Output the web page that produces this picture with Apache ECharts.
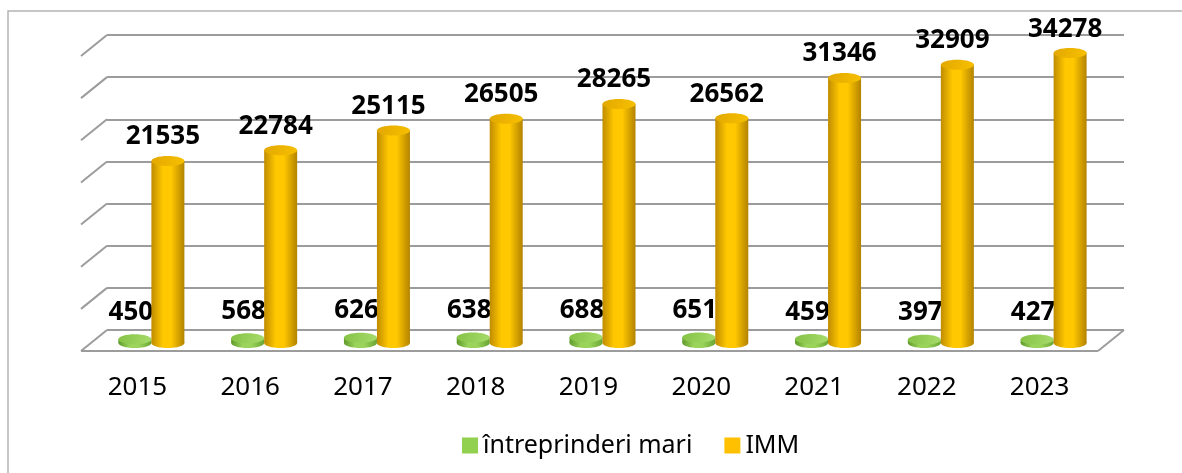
<!DOCTYPE html>
<html>
<head>
<meta charset="utf-8">
<script src="https://cdn.jsdelivr.net/npm/echarts@6/dist/echarts.min.js"></script>
<style>
  html, body { margin: 0; padding: 0; background: #fff; }
  #main { width: 1182px; height: 473px; }
</style>
</head>
<body>
<div id="main"></div>
<script>
// date din grafic
var ani = ['2015', '2016', '2017', '2018', '2019', '2020', '2021', '2022', '2023'];
var mari = [450, 568, 626, 638, 688, 651, 459, 397, 427];
var imm = [21535, 22784, 25115, 26505, 28265, 26562, 31346, 32909, 34278];
var ticks = [0, 5000, 10000, 15000, 20000, 25000, 30000, 35000];

var FONT = '"Noto Sans", "Open Sans", sans-serif';
var DX = -26, DY = 21; // adancimea 3D

var chart = echarts.init(document.getElementById('main'));

// cilindru desenat prin scalele axei
function cylinder(dx, cols, lblOff) {
  return function (params, api) {
    var i = api.value(0), v = api.value(1);
    var top = api.coord([i, v]);
    var base = api.coord([i, 0]);
    var w = 33, eh = 10;
    var x = top[0] + dx;
    var body = new echarts.graphic.LinearGradient(0, 0, 1, 0, [
      { offset: 0, color: cols[0] },
      { offset: 0.35, color: cols[1] },
      { offset: 0.6, color: cols[1] },
      { offset: 1, color: cols[2] }
    ]);
    return {
      type: 'group',
      children: [
        { type: 'ellipse', shape: { cx: x, cy: base[1], rx: w / 2, ry: eh / 2 }, style: { fill: body } },
        { type: 'rect', shape: { x: x - w / 2, y: top[1], width: w, height: base[1] - top[1] }, style: { fill: body } },
        { type: 'ellipse', shape: { cx: x, cy: top[1], rx: w / 2, ry: eh / 2 },
          style: { fill: new echarts.graphic.LinearGradient(0, 0, 1, 1, [
            { offset: 0, color: cols[3] }, { offset: 1, color: cols[4] }]) } },
        { type: 'text', x: x + lblOff[0], y: top[1] + lblOff[1],
          style: { text: String(v), font: 'bold 26px ' + FONT, fill: '#000',
            align: 'center', verticalAlign: 'bottom' } }
      ]
    };
  };
}

chart.setOption({
  animation: false,
  graphic: [{
    type: 'rect', shape: { x: 8, y: 11, width: 1200, height: 500 },
    style: { fill: 'none', stroke: '#b4b4b4', lineWidth: 1.5 }, silent: true
  }],
  legend: {
    left: 457, top: 428,
    itemWidth: 16, itemHeight: 16, itemGap: 32,
    icon: 'rect',
    textStyle: { fontFamily: FONT, fontSize: 25, color: '#000' },
    data: [
      { name: 'întreprinderi mari', itemStyle: { color: '#92D050' } },
      { name: 'IMM', itemStyle: { color: '#FFC000' } }
    ]
  },
  grid: [
    { left: 107, right: 58, top: 35, bottom: 143 },   // perete spate
    { left: 94.5, right: 72.5, top: 47, bottom: 130 },   // cilindri
    { left: 81, right: 86, top: 35, bottom: 122 }     // etichete ani
  ],
  xAxis: [
    { gridIndex: 0, type: 'value', min: 0, max: 1, show: false },
    { gridIndex: 1, type: 'category', data: ani, show: false },
    { gridIndex: 2, type: 'category', data: ani,
      axisLine: { show: false }, axisTick: { show: false },
      axisLabel: { margin: 24, fontFamily: FONT, fontSize: 26, color: '#000' } }
  ],
  yAxis: [
    { gridIndex: 0, type: 'value', min: 0, max: 35000, interval: 5000,
      axisLine: { show: false }, axisTick: { show: false }, axisLabel: { show: false },
      splitLine: { lineStyle: { color: '#9c9c9c', width: 2 } } },
    { gridIndex: 1, type: 'value', min: 0, max: 35000, show: false, splitLine: { show: false } },
    { gridIndex: 2, type: 'value', show: false, splitLine: { show: false } }
  ],
  series: [
    {
      // linii oblice stanga + podea
      type: 'custom', xAxisIndex: 0, yAxisIndex: 0, silent: true,
      data: ticks.map(function (t) { return [0, t]; }),
      renderItem: function (params, api) {
        var v = api.value(1);
        var p = api.coord([0, v]);
        var ls = { stroke: '#9c9c9c', lineWidth: 2 };
        var ch = [{ type: 'line', shape: { x1: p[0], y1: p[1], x2: p[0] + DX, y2: p[1] + DY }, style: ls }];
        if (v === 0) {
          var q = api.coord([1, 0]);
          ch.push({ type: 'line', shape: { x1: q[0], y1: q[1], x2: q[0] + DX, y2: q[1] + DY }, style: ls });
          ch.push({ type: 'line', shape: { x1: p[0] + DX, y1: p[1] + DY, x2: q[0] + DX, y2: q[1] + DY }, style: ls });
        }
        return { type: 'group', children: ch };
      }
    },
    {
      name: 'întreprinderi mari', type: 'custom', xAxisIndex: 1, yAxisIndex: 1,
      itemStyle: { color: '#92D050' },
      data: mari.map(function (v, i) { return [i, v]; }),
      renderItem: cylinder(-16, ['#5f9a2c', '#9ad45a', '#6aa634', '#84c244', '#a8dc6c'], [-4, -14])
    },
    {
      name: 'IMM', type: 'custom', xAxisIndex: 1, yAxisIndex: 1,
      itemStyle: { color: '#FFC000' },
      data: imm.map(function (v, i) { return [i, v]; }),
      renderItem: cylinder(17, ['#c08c00', '#ffc800', '#b38300', '#e2a800', '#f7c000'], [-5, -11])
    }
  ]
});
</script>
</body>
</html>
